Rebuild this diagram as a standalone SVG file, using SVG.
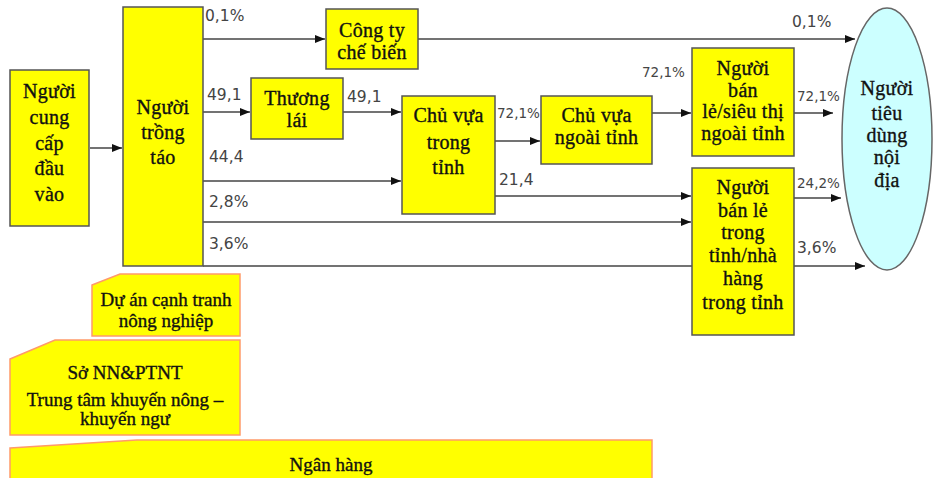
<svg xmlns="http://www.w3.org/2000/svg" width="934" height="478" viewBox="0 0 934 478">
<defs>
<marker id="arr" markerWidth="10" markerHeight="8" refX="10" refY="4" orient="auto" markerUnits="userSpaceOnUse">
<path d="M0,0 L10,4 L0,8 Z" fill="#111"/>
</marker>
<style>
.box{fill:#ffff00;stroke:#555;stroke-width:1.5}
.sup{fill:#ffff00;stroke:#ff9a6a;stroke-width:1.5}
.nodetext{font-family:"Liberation Serif","Times New Roman",serif;font-size:20px;letter-spacing:0.3px;fill:#111;stroke:#111;stroke-width:0.35;text-anchor:middle}
.tb{font-family:"Liberation Serif","Times New Roman",serif;font-size:19px;fill:#111;stroke:#111;stroke-width:0.35;text-anchor:middle}
.lb{font-family:"DejaVu Sans",Verdana,sans-serif;font-size:15.5px;fill:#444}
.lbs{font-family:"DejaVu Sans",Verdana,sans-serif;font-size:13.5px;fill:#444}
.c{fill:none;stroke:#444;stroke-width:1.5}
</style>
</defs>
<rect width="934" height="478" fill="#fff"/>
<g id="connectors">
<line class="c" x1="90" y1="148" x2="122" y2="148" marker-end="url(#arr)"/>
<line class="c" x1="203" y1="39" x2="325" y2="39" marker-end="url(#arr)"/>
<line class="c" x1="418" y1="39" x2="855" y2="39" marker-end="url(#arr)"/>
<line class="c" x1="203" y1="112" x2="250" y2="112" marker-end="url(#arr)"/>
<line class="c" x1="343" y1="112" x2="401" y2="112" marker-end="url(#arr)"/>
<line class="c" x1="203" y1="181" x2="401" y2="181" marker-end="url(#arr)"/>
<line class="c" x1="495" y1="141" x2="540" y2="141" marker-end="url(#arr)"/>
<line class="c" x1="652" y1="113" x2="691" y2="113" marker-end="url(#arr)"/>
<line class="c" x1="794" y1="113" x2="833" y2="113" marker-end="url(#arr)"/>
<line class="c" x1="495" y1="196" x2="691" y2="196" marker-end="url(#arr)"/>
<line class="c" x1="203" y1="222" x2="691" y2="222" marker-end="url(#arr)"/>
<line class="c" x1="794" y1="198" x2="841" y2="198" marker-end="url(#arr)"/>
<line class="c" x1="203" y1="266" x2="865" y2="266" marker-end="url(#arr)"/>
<text class="lb" x="205" y="21">0,1%</text>
<text class="lb" x="207" y="100">49,1</text>
<text class="lb" x="209" y="162">44,4</text>
<text class="lb" x="209" y="207">2,8%</text>
<text class="lb" x="209" y="249">3,6%</text>
<text class="lb" x="347" y="102">49,1</text>
<text class="lbs" x="497" y="118">72,1%</text>
<text class="lb" x="499" y="185">21,4</text>
<text class="lbs" x="642" y="77">72,1%</text>
<text class="lbs" x="797" y="101">72,1%</text>
<text class="lbs" x="797" y="188">24,2%</text>
<text class="lb" x="797" y="253">3,6%</text>
<text class="lb" x="792" y="27">0,1%</text>
</g>
<g id="n-cungcap">
<rect class="box" x="10" y="70" width="79" height="156"/>
<text class="nodetext" x="49.5" y="98">Người</text>
<text class="nodetext" x="49.5" y="124">cung</text>
<text class="nodetext" x="49.5" y="150">cấp</text>
<text class="nodetext" x="49.5" y="175">đầu</text>
<text class="nodetext" x="49.5" y="201">vào</text>
</g>
<g id="n-trongtao">
<rect class="box" x="123" y="7" width="80" height="259"/>
<text class="nodetext" x="163" y="114">Người</text>
<text class="nodetext" x="163" y="139">trồng</text>
<text class="nodetext" x="163" y="164">táo</text>
</g>
<g id="n-congty">
<rect class="box" x="326" y="9" width="92" height="60"/>
<text class="nodetext" x="372" y="37">Công ty</text>
<text class="nodetext" x="372" y="59">chế biến</text>
</g>
<g id="n-thuonglai">
<rect class="box" x="251" y="78" width="92" height="61"/>
<text class="nodetext" x="297" y="105">Thương</text>
<text class="nodetext" x="297" y="127">lái</text>
</g>
<g id="n-chuvuatrong">
<rect class="box" x="402" y="96" width="93" height="118"/>
<text class="nodetext" x="448.5" y="122">Chủ vựa</text>
<text class="nodetext" x="448.5" y="149">trong</text>
<text class="nodetext" x="448.5" y="174">tỉnh</text>
</g>
<g id="n-chuvuangoai">
<rect class="box" x="541" y="96" width="111" height="68"/>
<text class="nodetext" x="596.5" y="122">Chủ vựa</text>
<text class="nodetext" x="596.5" y="144">ngoài tỉnh</text>
</g>
<g id="n-banlengoai">
<rect class="box" x="692" y="48" width="102" height="108"/>
<text class="nodetext" x="743" y="75">Người</text>
<text class="nodetext" x="743" y="97">bán</text>
<text class="nodetext" x="743" y="118">lẻ/siêu thị</text>
<text class="nodetext" x="743" y="140">ngoài tỉnh</text>
</g>
<g id="n-banletrong">
<rect class="box" x="692" y="168" width="102" height="167"/>
<text class="nodetext" x="743" y="194">Người</text>
<text class="nodetext" x="743" y="217">bán lẻ</text>
<text class="nodetext" x="743" y="239">trong</text>
<text class="nodetext" x="743" y="262">tỉnh/nhà</text>
<text class="nodetext" x="743" y="285">hàng</text>
<text class="nodetext" x="743" y="309">trong tỉnh</text>
</g>
<g id="n-tieudung">
<ellipse cx="887" cy="139" rx="45" ry="131" fill="#ccffff" stroke="#666" stroke-width="1.5"/>
<text class="nodetext" x="887" y="95">Người</text>
<text class="nodetext" x="887" y="120">tiêu</text>
<text class="nodetext" x="887" y="142">dùng</text>
<text class="nodetext" x="887" y="164">nội</text>
<text class="nodetext" x="887" y="187">địa</text>
</g>
<g id="n-duan">
<path class="sup" d="M92,285 L120,274 L240,274 L240,336 L92,336 Z"/>
<text class="tb" x="166" y="306">Dự án cạnh tranh</text>
<text class="tb" x="166" y="327">nông nghiệp</text>
</g>
<g id="n-so">
<path class="sup" d="M10,359 L55,340 L240,340 L240,435 L10,435 Z"/>
<text class="tb" x="125" y="379">Sở NN&amp;PTNT</text>
<text class="tb" x="125" y="406">Trung tâm khuyến nông –</text>
<text class="tb" x="125" y="425">khuyến ngư</text>
</g>
<g id="n-nganhang">
<path class="sup" d="M10,448 L137,440 L652,440 L652,480 L10,480 Z"/>
<text class="tb" x="331" y="471">Ngân hàng</text>
</g>
</svg>
